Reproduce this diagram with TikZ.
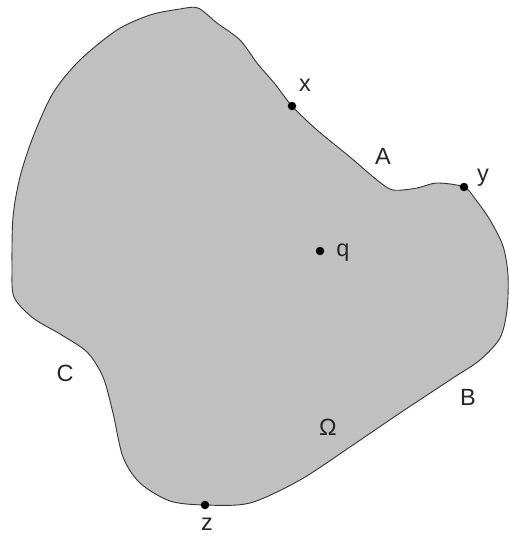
\documentclass[tikz,border=0pt]{standalone}
\usepackage{fontspec}
\setmainfont{Liberation Sans}
\begin{document}
\begin{tikzpicture}[x=1pt,y=-1pt,
  dot/.style={circle,fill=black,inner sep=0pt,minimum size=8.5pt},
  lbl/.style={font=\fontsize{23.5}{25}\selectfont,inner sep=0pt,text=black!85}]
\useasboundingbox (0,0) rectangle (509,538);
\fill[white] (0,0) rectangle (509,538);
\draw[fill={rgb,255:red,192;green,192;blue,192},draw=black!80,line width=0.9pt]
  plot[smooth cycle,tension=0.5] coordinates{
  (198,8) (217,23) (240,40) (257,63) (275,84) (292,106) (317,130) (350,157)
  (377,180) (393,190) (417,188) (437,183) (464,187) (476,200) (490,220)
  (503,246) (508,275) (507,310) (500,338) (480,360) (453,378) (400,413)
  (350,447) (300,480) (250,503) (205,505) (170,501) (140,483) (123,457)
  (113,413) (103,377) (87,352) (60,334) (33,318) (14,297) (12,267) (13,217)
  (20,177) (33,137) (53,93) (80,60) (117,30) (150,15) (180,9)};
\node[dot] (x) at (292,106) {};
\node[dot] (y) at (464,187) {};
\node[dot] (z) at (205,505) {};
\node[dot] (q) at (320,251) {};
\node[lbl] (xl) at (305,85) {x};
\node[lbl] (yl) at (483,178) {y};
\node[lbl] (zl) at (207,524) {z};
\node[lbl] (ql) at (343,253) {q};
\node[lbl] (A) at (383,156) {A};
\node[lbl] (B) at (468,397) {B};
\node[lbl] (C) at (65,373) {C};
\node[lbl] (O) at (328,427) {Ω};
\end{tikzpicture}
\end{document}
